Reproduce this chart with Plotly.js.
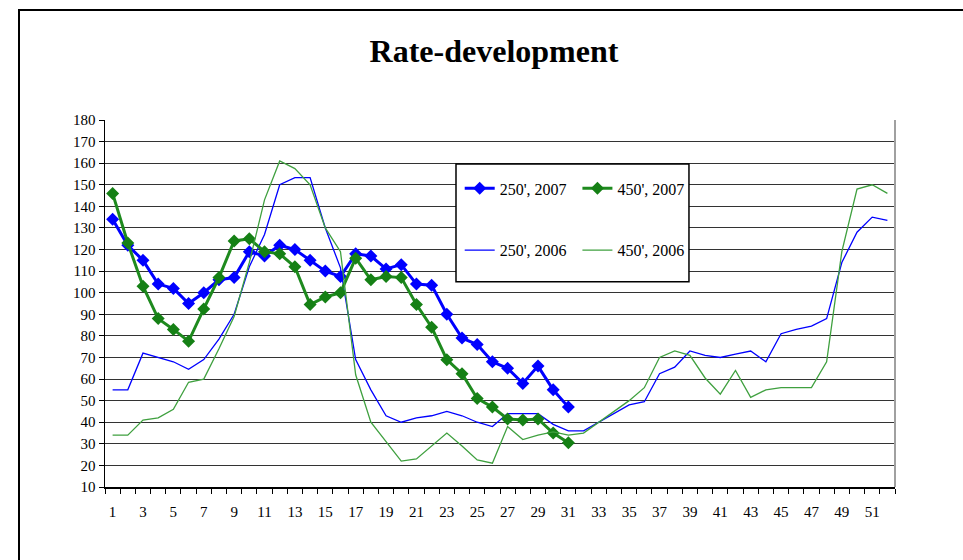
<!DOCTYPE html>
<html>
<head>
<meta charset="utf-8">
<script src="https://cdn.plot.ly/plotly-3.0.1.min.js"></script>
<style>
  html, body { margin: 0; padding: 0; background: #fff; }
  #frame { position: absolute; left: 18px; top: 9px; width: 1000px; height: 600px;
           border-left: 2px solid #000; border-top: 2px solid #000; }
  #chart { position: absolute; left: 0; top: 0; width: 963px; height: 560px; }
</style>
</head>
<body>
<div id="frame"></div>
<div id="chart"></div>
<script>
const weeks = [1,2,3,4,5,6,7,8,9,10,11,12,13,14,15,16,17,18,19,20,21,22,23,24,25,26,
               27,28,29,30,31,32,33,34,35,36,37,38,39,40,41,42,43,44,45,46,47,48,49,50,51,52];
const weeks2007 = [1,2,3,4,5,6,7,8,9,10,11,12,13,14,15,16,17,18,19,20,21,22,23,24,25,26,
                   27,28,29,30,31];
const xTickLabels = ["1","3","5","7","9","11","13","15","17","19","21","23","25","27","29",
                     "31","33","35","37","39","41","43","45","47","49","51"];
const yTickValues = [10,20,30,40,50,60,70,80,90,100,110,120,130,140,150,160,170,180];

const rate250_2007 = [134,122,115,104,102,95,100,106,107,119,117,122,120,115,110,107.5,
                      118,117,111,113,104,103.5,90,79,76,68,65,58,66,55,47];
const rate450_2007 = [146,123,103,88,83,77.5,92.5,107,124,125,119,118,112,94.5,98,100,
                      116,106,107.5,107,94.5,84,69,62.5,51,47,41.5,41,41.5,35,30.5];
const rate250_2006 = [55,55,72,70,68,64.5,69,78.5,90,112,127,150,153.3,153.3,130,111.5,
                      69,55,43,40,42,43,45,43,40,38,44,44,44,39,36,36,40,44,48,49.5,
                      62.5,65.5,73,71,70,71.5,73,68,81,83,84.5,88,114,128,135,133.5];
const rate450_2006 = [34,34,41,42,46,58.5,60,74,89,114,143,161,157.5,150,130,119,
                      62,40,31,22,23,29,35,29,22.5,21,38,32,34,35.5,34,35,40,45,50,56,
                      70,73,71,60.5,53,64,51.5,55,56,56,56,68,119,148,150,146];

const serif = "'Liberation Serif', 'Times New Roman', serif";

const traces = [
  { x: weeks2007, y: rate250_2007, name: "250', 2007", type: 'scatter', mode: 'lines+markers',
    line: { color: '#0000FF', width: 3 }, marker: { symbol: 'diamond', size: 10, color: '#0000FF' },
    legend: 'legend', legendgroup: 'a' },
  { x: weeks, y: rate250_2006, name: "250', 2006", type: 'scatter', mode: 'lines',
    line: { color: '#0000FF', width: 1.3 }, legend: 'legend', legendgroup: 'b' },
  { x: weeks2007, y: rate450_2007, name: "450', 2007", type: 'scatter', mode: 'lines+markers',
    line: { color: '#1E8A1E', width: 3 }, marker: { symbol: 'diamond', size: 10, color: '#158015' },
    legend: 'legend2', legendgroup: 'c' },
  { x: weeks, y: rate450_2006, name: "450', 2006", type: 'scatter', mode: 'lines',
    line: { color: '#3FA03F', width: 1.3 }, legend: 'legend2', legendgroup: 'd' }
];

const legendCommon = {
  font: { family: serif, size: 16, color: '#000' },
  bgcolor: 'rgba(0,0,0,0)', borderwidth: 0,
  traceorder: 'grouped', tracegroupgap: 38,
  xanchor: 'left', yanchor: 'top', y: 0.86
};

const layout = {
  width: 963, height: 560,
  margin: { l: 105, r: 68, t: 120, b: 73 },
  paper_bgcolor: 'rgba(0,0,0,0)', plot_bgcolor: '#fff',
  showlegend: true,
  title: { text: '<b>Rate-development</b>', font: { family: serif, size: 32, color: '#000' },
           x: 0.513, xanchor: 'center', y: 0.91, yanchor: 'middle', yref: 'container' },
  xaxis: {
    type: 'linear', range: [0.5, 52.5], fixedrange: true,
    tickmode: 'array', tickvals: xTickLabels.map(Number), ticktext: xTickLabels,
    ticks: '', ticklabelstandoff: 10,
    minor: { tickmode: 'linear', tick0: 0.5, dtick: 1, ticks: 'outside', ticklen: 5,
             tickcolor: '#000', tickwidth: 1, showgrid: false },
    showgrid: false, zeroline: false,
    showline: true, linecolor: '#000', linewidth: 1.5,
    tickfont: { family: serif, size: 15, color: '#000' }
  },
  yaxis: {
    range: [10, 180], fixedrange: true,
    tickmode: 'array', tickvals: yTickValues,
    ticks: 'outside', ticklen: 5, tickcolor: '#000', tickwidth: 1,
    showgrid: true, gridcolor: '#333', gridwidth: 1, zeroline: false,
    showline: true, linecolor: '#000', linewidth: 1.5,
    tickfont: { family: serif, size: 15, color: '#000' }
  },
  legend: Object.assign({}, legendCommon, { x: 0.449 }),
  legend2: Object.assign({}, legendCommon, { x: 0.598 }),
  shapes: [
    { type: 'line', xref: 'paper', yref: 'paper', x0: 1, x1: 1, y0: 0, y1: 1,
      line: { color: '#A0A0A0', width: 2 }, layer: 'above' },
    { type: 'rect', xref: 'paper', yref: 'paper', x0: 0.4443, x1: 0.7392, y0: 0.559, y1: 0.880,
      line: { color: '#000', width: 1.5 }, fillcolor: '#fff', layer: 'above' }
  ]
};

Plotly.newPlot('chart', traces, layout, { displayModeBar: false, staticPlot: true });
</script>
</body>
</html>
